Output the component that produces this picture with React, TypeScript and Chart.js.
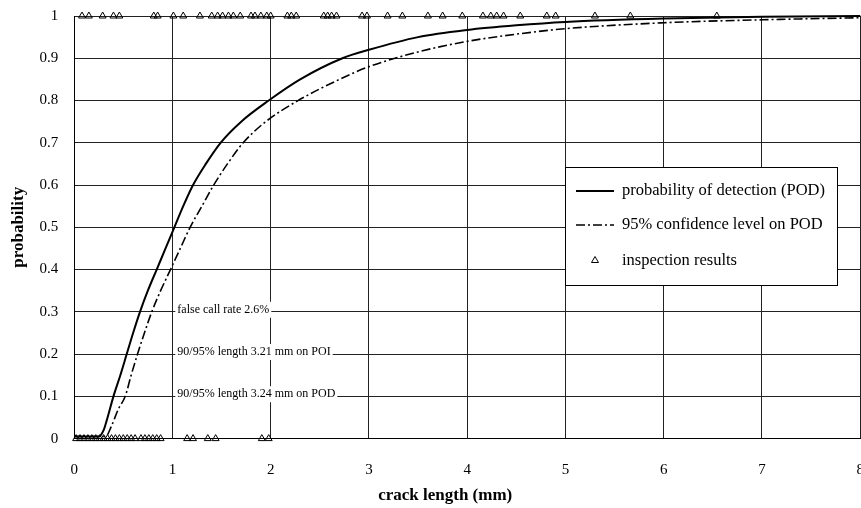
import React, { useEffect, useRef } from "react";
import { Chart, registerables } from "chart.js";

Chart.register(...registerables);

// crack length (mm) of inspection hits (y = 1) and misses (y = 0)
const hitX = [0.08, 0.15, 0.29, 0.40, 0.46, 0.81, 0.85, 1.01, 1.11, 1.28, 1.40, 1.46, 1.51, 1.57, 1.62, 1.69, 1.80, 1.84, 1.90, 1.96, 2.00, 2.17, 2.21, 2.26, 2.54, 2.58, 2.62, 2.67, 2.93, 2.98, 3.19, 3.34, 3.60, 3.75, 3.95, 4.16, 4.24, 4.30, 4.37, 4.54, 4.81, 4.90, 5.30, 5.66, 6.54];
const missX = [0.02, 0.06, 0.10, 0.14, 0.18, 0.22, 0.26, 0.30, 0.34, 0.38, 0.42, 0.46, 0.50, 0.54, 0.58, 0.62, 0.68, 0.72, 0.76, 0.80, 0.84, 0.88, 1.15, 1.21, 1.36, 1.44, 1.91, 1.98];

// POD curve
const podX = [0, 0.25, 0.3, 0.34, 0.4, 0.47, 0.535, 0.6, 0.67, 0.75, 0.84, 0.93, 1.02, 1.11, 1.21, 1.34, 1.49, 1.7, 1.98, 2.3, 2.73, 3.0, 3.5, 4, 4.5, 5, 6, 7, 8];
const podY = [0.005, 0.005, 0.02, 0.05, 0.1, 0.15, 0.2, 0.25, 0.3, 0.35, 0.4, 0.45, 0.5, 0.55, 0.6, 0.65, 0.7, 0.75, 0.8, 0.85, 0.9, 0.92, 0.95, 0.967, 0.978, 0.986, 0.994, 0.998, 1.0];

// 95% confidence curve
const confX = [0, 0.32, 0.38, 0.45, 0.52, 0.58, 0.645, 0.715, 0.79, 0.88, 0.98, 1.08, 1.18, 1.3, 1.42, 1.56, 1.72, 1.95, 2.28, 2.7, 3.0, 3.5, 4, 4.5, 5, 6, 7, 8];
const confY = [0.005, 0.005, 0.03, 0.07, 0.1, 0.15, 0.2, 0.25, 0.3, 0.35, 0.4, 0.45, 0.5, 0.55, 0.6, 0.65, 0.7, 0.75, 0.8, 0.85, 0.88, 0.915, 0.94, 0.957, 0.97, 0.984, 0.991, 0.996];

const legendLabels = ["probability of detection (POD)", "95% confidence level on POD", "inspection results"];
const noteLines = ["false call rate 2.6%", "90/95% length 3.21 mm on POI", "90/95% length 3.24 mm on POD"];
const noteY = [0.305, 0.205, 0.105];
const noteXStart = 1.05;
const xTitle = "crack length (mm)";

const FONT = "'Liberation Serif', 'Times New Roman', serif";
const DASH = [9, 3, 2, 3];

const overlayPlugin = {
  id: "overlay",
  afterDraw(chart: any) {
    const ctx = chart.ctx as CanvasRenderingContext2D;
    const xs = chart.scales.x;
    const ys = chart.scales.y;
    const area = chart.chartArea;
    ctx.save();
    ctx.textBaseline = "middle";
    ctx.textAlign = "left";
    // notes
    ctx.font = `12px ${FONT}`;
    noteLines.forEach((t, i) => {
      const px = xs.getPixelForValue(noteXStart);
      const py = ys.getPixelForValue(noteY[i]);
      const w = ctx.measureText(t).width;
      ctx.fillStyle = "#fff";
      ctx.fillRect(px - 2, py - 8, w + 4, 16);
      ctx.fillStyle = "#000";
      ctx.fillText(t, px, py);
    });
    // legend
    ctx.font = `16.5px ${FONT}`;
    const bx = Math.round(area.right - 295);
    const by = Math.round(area.top + 151);
    const bw = 272;
    const bh = 118;
    ctx.fillStyle = "#fff";
    ctx.fillRect(bx, by, bw, bh);
    ctx.strokeStyle = "#000";
    ctx.lineWidth = 1;
    ctx.strokeRect(bx + 0.5, by + 0.5, bw, bh);
    const rows = [by + 24, by + 58, by + 94];
    const sx0 = bx + 11;
    const sx1 = bx + 49;
    const tx = bx + 57;
    ctx.lineWidth = 2;
    ctx.setLineDash([]);
    ctx.beginPath();
    ctx.moveTo(sx0, rows[0]);
    ctx.lineTo(sx1, rows[0]);
    ctx.stroke();
    ctx.lineWidth = 1.6;
    ctx.setLineDash(DASH);
    ctx.beginPath();
    ctx.moveTo(sx0, rows[1]);
    ctx.lineTo(sx1, rows[1]);
    ctx.stroke();
    ctx.setLineDash([]);
    const cx = (sx0 + sx1) / 2;
    const cy = rows[2] - 1;
    ctx.lineWidth = 1;
    ctx.beginPath();
    ctx.moveTo(cx, cy - 3.5);
    ctx.lineTo(cx + 3.5, cy + 2.5);
    ctx.lineTo(cx - 3.5, cy + 2.5);
    ctx.closePath();
    ctx.stroke();
    ctx.fillStyle = "#000";
    legendLabels.forEach((t, i) => ctx.fillText(t, tx, rows[i]));
    // x axis title (offset left of axis centre, as in the source)
    ctx.font = `bold 17px ${FONT}`;
    ctx.textAlign = "center";
    ctx.fillText(xTitle, area.left + (area.right - area.left) * 0.472, chart.height - 2 - 10);
    ctx.restore();
  },
};

export default function App() {
  const ref = useRef<HTMLCanvasElement | null>(null);
  useEffect(() => {
    document.documentElement.style.overflow = "hidden";
    document.body.style.overflow = "hidden";
    const pointDs = (xs: number[], y: number) => ({
      type: "scatter" as const,
      data: xs.map((x) => ({ x, y })),
      showLine: false,
      pointStyle: "triangle",
      pointRadius: 4,
      pointBorderWidth: 1,
      pointBorderColor: "#000",
      pointBackgroundColor: "rgba(0,0,0,0)",
      clip: false as any,
    });
    const chart = new Chart(ref.current as HTMLCanvasElement, {
      type: "scatter",
      data: {
        datasets: [
          {
            data: podX.map((x, i) => ({ x, y: podY[i] })),
            showLine: true,
            borderColor: "#000",
            borderWidth: 2,
            pointRadius: 0,
            cubicInterpolationMode: "monotone",
            clip: false as any,
          } as any,
          {
            data: confX.map((x, i) => ({ x, y: confY[i] })),
            showLine: true,
            borderColor: "#000",
            borderWidth: 1.6,
            borderDash: DASH,
            pointRadius: 0,
            cubicInterpolationMode: "monotone",
            clip: false as any,
          } as any,
          pointDs(hitX, 1) as any,
          pointDs(missX, 0) as any,
        ],
      },
      options: {
        animation: false,
        responsive: false,
        maintainAspectRatio: false,
        layout: { padding: { left: 8, top: 0, right: 0, bottom: 2 } },
        plugins: { legend: { display: false }, tooltip: { enabled: false } },
        scales: {
          x: {
            type: "linear",
            min: 0,
            max: 8,
            ticks: { stepSize: 1, padding: 22, color: "#000", font: { family: FONT, size: 15 } },
            grid: { color: "#222", lineWidth: 1, drawTicks: false },
            border: { color: "#000", width: 1 },
            title: { display: true, text: xTitle, color: "rgba(0,0,0,0)", font: { family: FONT, size: 17, weight: "bold" }, padding: { top: -15, bottom: 0 } },
          },
          y: {
            type: "linear",
            min: 0,
            max: 1,
            ticks: {
              stepSize: 0.1,
              padding: 16,
              color: "#000",
              font: { family: FONT, size: 15 },
              callback: (v: any) => String(Math.round(Number(v) * 10) / 10),
            },
            grid: { color: "#222", lineWidth: 1, drawTicks: false },
            border: { color: "#000", width: 1 },
            title: { display: true, text: "probability", color: "#000", font: { family: FONT, size: 17, weight: "bold" }, padding: { top: 0, bottom: -5 } },
          },
        },
      },
      plugins: [overlayPlugin],
    });
    return () => chart.destroy();
  }, []);
  return (
    <div style={{ position: "absolute", left: 0, top: -9, width: 886, height: 517, background: "#fff" }}>
      <canvas ref={ref} width={886} height={517} style={{ display: "block" }} />
    </div>
  );
}
